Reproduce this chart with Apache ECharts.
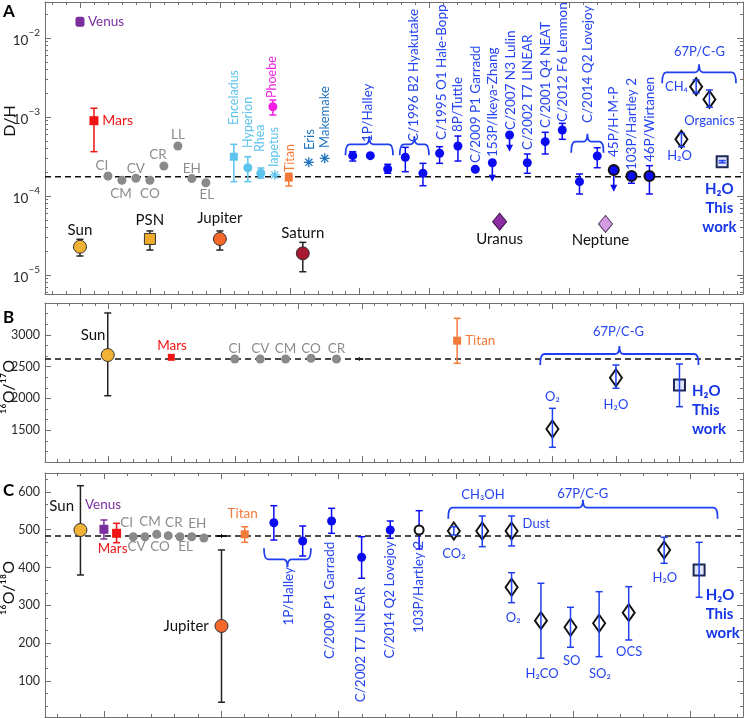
<!DOCTYPE html>
<html>
<head>
<meta charset="utf-8">
<title>D/H and oxygen isotope ratios</title>
<script src="https://cdn.jsdelivr.net/npm/echarts@6.0.0/dist/echarts.min.js"></script>
<style>
html,body{margin:0;padding:0;background:#ffffff;}
#chart{width:747px;height:718px;}
</style>
</head>
<body>
<div id="chart"></div>
<script>
// ================= DATA =================
// Row format: [name, x-slot, value, errLow, errHigh]

// ---- Panel A : D/H (log scale) ----
const aVenus      = [['Venus', 0, 1.61e-2, null, null]];
const aMars       = [['Mars', 1, 8.98e-4, 3.64e-4, 1.29e-3]];
const aChondrites = [['CI', 2, 1.79e-4], ['CM', 3, 1.58e-4], ['CV', 4, 1.68e-4], ['CO', 5, 1.58e-4],
                     ['CR', 6, 2.40e-4], ['LL', 7, 4.30e-4], ['EH', 8, 1.66e-4], ['EL', 9, 1.47e-4]];
const aSun        = [['Sun', 0, 2.28e-5, 1.74e-5, 2.83e-5]];
const aPSN        = [['PSN', 5, 2.86e-5, 2.07e-5, 3.61e-5]];
const aJupiter    = [['Jupiter', 10, 2.86e-5, 2.07e-5, 3.61e-5]];
const aSaturn     = [['Saturn', 15.93, 1.88e-5, 1.10e-5, 2.59e-5]];
const aEnceladus  = [['Enceladus', 11, 3.14e-4, 1.52e-4, 4.51e-4]];
const aSatMoons   = [['Hyperion', 12, 2.28e-4, 1.52e-4, 3.14e-4], ['Rhea', 12.93, 1.94e-4, 1.68e-4, 2.26e-4]];
const aIapetus    = [['Iapetus', 13.93, 1.85e-4]];
const aPhoebe     = [['Phoebe', 13.79, 1.35e-3, 1.06e-3, 1.64e-3]];
const aTitan      = [['Titan', 14.93, 1.71e-4, 1.34e-4, 1.94e-4]];
const aKBO        = [['Eris', 16.36, 2.67e-4], ['Makemake', 17.5, 3.0e-4]];
const aOortComets = [
  ['1P/Halley', 19.5, 3.24e-4, 2.77e-4, 3.64e-4],
  ['1P/Halley', 20.76, 3.24e-4, null, null],
  ['1P/Halley', 22.0, 2.20e-4, 1.94e-4, 2.52e-4],
  ['C/1996 B2 Hyakutake', 23.26, 3.09e-4, 2.03e-4, 4.13e-4],
  ['C/1996 B2 Hyakutake', 24.52, 1.94e-4, 1.35e-4, 2.59e-4],
  ['C/1995 O1 Hale-Bopp', 25.71, 3.48e-4, 2.59e-4, 4.21e-4],
  ['8P/Tuttle', 27.02, 4.30e-4, 2.77e-4, 5.74e-4],
  ['C/2009 P1 Garradd', 28.26, 2.18e-4, null, null],
  ['153P/Ikeya-Zhang', 29.48, 2.64e-4, null, null],
  ['C/2007 N3 Lulin', 30.71, 5.92e-4, null, null],
  ['C/2002 T7 LINEAR', 31.98, 2.64e-4, 1.94e-4, 3.40e-4],
  ['C/2001 Q4 NEAT', 33.26, 4.87e-4, 3.40e-4, 6.40e-4],
  ['C/2012 F6 Lemmon', 34.48, 6.84e-4, 5.22e-4, 8.31e-4],
  ['C/2014 Q2 Lovejoy', 35.71, 1.52e-4, 1.06e-4, 1.90e-4],
  ['C/2014 Q2 Lovejoy', 36.98, 3.21e-4, 2.28e-4, 4.08e-4]
];
const aJFComets   = [['45P/H-M-P', 38.16, 2.13e-4, null, null],
                     ['103P/Hartley 2', 39.43, 1.79e-4, 1.45e-4, 1.94e-4],
                     ['46P/Wirtanen', 40.71, 1.79e-4, 1.06e-4, 2.42e-4]];
// upper limits: [name, slot, value, arrow tip]
const aUpperLimits = [['153P/Ikeya-Zhang', 29.48, 2.64e-4, 1.52e-4],
                      ['C/2007 N3 Lulin', 30.71, 5.92e-4, 3.64e-4],
                      ['45P/H-M-P', 38.16, 2.13e-4, 1.13e-4]];
const a67P        = [['H₂O', 43.0, 5.22e-4, 4.21e-4, 6.22e-4],
                     ['CH₄', 44.05, 2.42e-3, 2.01e-3, 2.94e-3],
                     ['Organics', 45.0, 1.67e-3, 1.33e-3, 2.20e-3]];
const aThisWork   = [['H₂O This work', 45.91, 2.72e-4, 2.63e-4, 2.81e-4]];
const aUranus     = [['Uranus', 30.0, 4.73e-5]];
const aNeptune    = [['Neptune', 37.57, 4.43e-5]];
const aReference  = 1.75e-4;
const aTickLabels = [1e-5, 1e-4, 1e-3, 1e-2];

// ---- Panel B : 16O/17O ----
const bSun        = [['Sun', 0, 2682, 2042, 3343]];
const bMars       = [['Mars', 5, 2646]];
const bChondrites = [['CI', 10, 2620], ['CV', 12, 2620], ['CM', 14, 2620], ['CO', 16, 2631], ['CR', 18, 2620]];
const bOther      = [['', 19.8, 2620]];
const bTitan      = [['Titan', 27.5, 2907, 2552, 3259]];
const b67P        = [['O₂', 35, 1519, 1231, 1844], ['H₂O', 40, 2325, 2159, 2525]];
const bThisWork   = [['H₂O This work', 45, 2211, 1870, 2541]];
const bReference  = 2620;
const bTickLabels = [1500, 2000, 2500, 3000];

// ---- Panel C : 16O/18O ----
const cSun        = [['Sun', -1, 499.3, 380.4, 616.4]];
const cVenus      = [['Venus', 0, 501.2, 475.6, 525.8]];
const cMars       = [['Mars', 0.54, 490.6, 465.8, 517]];
const cChondrites = [['CI', 1.25, 481.6], ['CV', 1.75, 481.6], ['CM', 2.25, 488], ['CO', 2.74, 484.3],
                     ['CR', 3.24, 481.6], ['EL', 3.74, 481.6], ['EH', 4.26, 478.2]];
const cJupiter    = [['Jupiter', 5.01, 245.6, 44, 446.5]];
const cOther      = [['', 5.01, 483.5]];
const cTitan      = [['Titan', 6, 488, 466.8, 508]];
const cOortComets = [['1P/Halley', 7.24, 518.6, 472.9, 563.6],
                     ['1P/Halley', 8.47, 470.3, 430.6, 510],
                     ['C/2009 P1 Garradd', 9.7, 523.1, 490.6, 556.7],
                     ['C/2002 T7 LINEAR', 10.98, 427.2, 371.7, 481.6],
                     ['C/2014 Q2 Lovejoy', 12.2, 499.3, 477.4, 523.1]];
const cHartley    = [['103P/Hartley 2', 13.43, 499.3, 449.1, 550.4]];
const c67P        = [['CO₂', 14.91, 496.7, 486.1, 508],
                     ['CH₃OH', 16.12, 496.7, 455.2, 536.4],
                     ['Dust', 17.37, 496.7, 457.1, 536.4],
                     ['O₂', 17.37, 347.9, 307.2, 386.5],
                     ['H₂CO', 18.62, 259.6, 160.3, 358.5],
                     ['SO', 19.88, 242.2, 189.3, 295],
                     ['SO₂', 21.1, 252.8, 164.5, 336.3],
                     ['OCS', 22.36, 280.8, 208.6, 349.5],
                     ['H₂O', 23.87, 446.5, 411.3, 480]];
const cThisWork   = [['H₂O This work', 25.36, 393.6, 321.5, 466.8]];
const cReference  = 483.5;
const cTickLabels = [100, 200, 300, 400, 500, 600];

// ================= ANNOTATIONS (text anchors in data space) =================
const aLabels = [
  ['Venus', 0.57, 1.61e-2, 'venusL'], ['Mars', 1.59, 8.98e-4, 'marsL'],
  ['CI', 1.57, 2.40e-4, 'gray'], ['CM', 2.93, 1.06e-4, 'gray'], ['CV', 4, 2.20e-4, 'gray'], ['CO', 5, 1.06e-4, 'gray'],
  ['CR', 5.57, 3.30e-4, 'gray'], ['LL', 7, 5.92e-4, 'gray'], ['EH', 8, 2.20e-4, 'gray'], ['EL', 9.07, 1.03e-4, 'gray'],
  ['Sun', 0, 3.72e-5, 'black'], ['PSN', 5, 4.97e-5, 'black'], ['Jupiter', 10, 5.27e-5, 'black'],
  ['Saturn', 15.93, 3.40e-5, 'black'], ['Uranus', 30, 2.86e-5, 'black'], ['Neptune', 37.21, 2.77e-5, 'black'],
  ['Enceladus', 11, 7.92e-4, 'lightUp'], ['Hyperion', 12, 4.06e-4, 'lightUp'], ['Rhea', 12.86, 3.61e-4, 'lightUp'],
  ['Iapetus', 13.86, 2.33e-4, 'lightUp'], ['Phoebe', 13.71, 1.74e-3, 'magentaUp'], ['Titan', 15.0, 2.01e-4, 'orangeUp'],
  ['Eris', 16.43, 3.82e-4, 'tealUp'], ['Makemake', 17.5, 4.06e-4, 'tealUp'],
  ['1P/Halley', 20.59, 4.83e-4, 'blueUp'], ['C/1996 B2 Hyakutake', 23.88, 4.83e-4, 'blueUp'],
  ['C/1995 O1 Hale-Bopp', 25.84, 5.12e-4, 'blueUp'], ['8P/Tuttle', 27.0, 6.46e-4, 'blueUp'],
  ['C/2009 P1 Garradd', 28.29, 2.62e-4, 'blueUp'], ['153P/Ikeya-Zhang', 29.5, 3.12e-4, 'blueUp'],
  ['C/2007 N3 Lulin', 30.76, 6.84e-4, 'blueUp'], ['C/2002 T7 LINEAR', 32.0, 3.82e-4, 'blueUp'],
  ['C/2001 Q4 NEAT', 33.29, 7.26e-4, 'blueUp'], ['C/2012 F6 Lemmon', 34.5, 8.65e-4, 'blueUp'],
  ['C/2014 Q2 Lovejoy', 36.31, 8.39e-4, 'blueUp'], ['45P/H-M-P', 38.14, 3.12e-4, 'blueUp'],
  ['103P/Hartley 2', 39.43, 2.13e-4, 'blueUp'], ['46P/Wirtanen', 40.71, 2.69e-4, 'blueUp'],
  ['67P/C-G', 44.29, 6.65e-3, 'blue'], ['CH₄', 42.64, 2.40e-3, 'blue'], ['Organics', 45.0, 8.91e-4, 'blue'],
  ['H₂O', 42.86, 3.21e-4, 'blue'], ['H₂O\nThis\nwork', 45.71, 7.05e-5, 'bold']
];
const aBrackets = [[18.98, 22.38, 4.51e-4, 1], [22.86, 24.95, 4.51e-4, 1], [35.12, 37.43, 4.87e-4, 1], [41.62, 46.9, 3.68e-3, 1]];

const bLabels = [
  ['Sun', -1.16, 2997, 'black'], ['Mars', 5.06, 2829, 'marsC'],
  ['CI', 10, 2777, 'gray'], ['CV', 12, 2777, 'gray'], ['CM', 14, 2777, 'gray'], ['CO', 16, 2777, 'gray'], ['CR', 18, 2777, 'gray'],
  ['Titan', 28.13, 2907, 'orangeL'], ['67P/C-G', 40.2, 3049, 'blue'], ['O₂', 35, 2027, 'blue'], ['H₂O', 40, 1896, 'blue'],
  ['H₂O\nThis\nwork', 45.98, 1818, 'boldL']
];
const bBrackets = [[34.04, 46.5, 2698, 1]];

const cLabels = [
  ['Sun', -1.8, 562.8, 'black'], ['Venus', -0.81, 565.4, 'venusL'], ['Mars', 0.37, 449.1, 'marsC'],
  ['CI', 0.97, 519.7, 'gray'], ['CM', 1.96, 521.3, 'gray'], ['CR', 2.98, 519.7, 'gray'], ['EH', 3.98, 517, 'gray'],
  ['CV', 1.39, 455.2, 'gray'], ['CO', 2.39, 455.2, 'gray'], ['EL', 3.48, 455.2, 'gray'],
  ['Jupiter', 4.47, 245.6, 'blackR'], ['Titan', 5.91, 543.5, 'orange'],
  ['1P/Halley', 7.85, 401.6, 'blueDown'], ['C/2009 P1 Garradd', 9.63, 468.4, 'blueDown'],
  ['C/2002 T7 LINEAR', 10.94, 349.5, 'blueDown'], ['C/2014 Q2 Lovejoy', 12.16, 470.3, 'blueDown'],
  ['103P/Hartley 2', 13.39, 470.3, 'blueDown'],
  ['CO₂', 14.91, 435.1, 'blue'], ['CH₃OH', 16.15, 591.9, 'blue'], ['67P/C-G', 20.4, 596.3, 'blue'],
  ['Dust', 17.84, 515.2, 'blueL'], ['O₂', 17.44, 267.6, 'blue'], ['H₂CO', 18.67, 118.8, 'blue'],
  ['SO', 19.93, 153.1, 'blue'], ['SO₂', 21.13, 118.8, 'blue'], ['OCS', 22.38, 176.1, 'blue'],
  ['H₂O', 23.9, 371.7, 'blue'], ['H₂O\nThis\nwork', 25.64, 277.3, 'boldL']
];
const cBrackets = [[14.67, 26.15, 558.3, 1], [6.82, 8.82, 421.9, -1]];

// ================= STYLES =================
const FONT = 'Lato, "Open Sans", "DejaVu Sans", sans-serif';
const AXIS = '#707070';
const BLUE = '#0b0bf2', BLUE_T = '#2444f2', BLUE_B = '#1f3ff0', BOLD_B = '#1536e8';
const LIGHT = '#5cc3ec', MAG = '#f21fe2', ORANGE = '#f47a3a', TEAL = '#1f73bd';
const STY = {
  sun:    {symbol: 'circle', size: 13, color: '#f1b133', border: '#333', bw: 1, err: '#222'},
  psn:    {symbol: 'rect', size: 11, color: '#eeac2a', border: '#333', bw: 1, err: '#222'},
  jup:    {symbol: 'circle', size: 13, color: '#f5682a', border: '#333', bw: 1, err: '#222'},
  sat:    {symbol: 'circle', size: 13, color: '#a5182f', border: '#333', bw: 1, err: '#222'},
  venus:  {symbol: 'roundRect', size: [9, 10], color: '#7b2f9f'},
  venusC: {symbol: 'rect', size: 9, color: '#7b2f9f'},
  mars:   {symbol: 'rect', size: 9, color: '#f01414'},
  marsB:  {symbol: 'rect', size: 7, color: '#f01414'},
  chon:   {symbol: 'circle', size: 9, color: '#8a8a8a'},
  encel:  {symbol: 'rect', size: 8, color: LIGHT},
  moon:   {symbol: 'circle', size: 9, color: LIGHT},
  iap:    {symbol: 'asterisk', size: 5, color: LIGHT},
  phoebe: {symbol: 'circle', size: 9, color: MAG},
  titan:  {symbol: 'rect', size: 8, color: ORANGE},
  kbo:    {symbol: 'asterisk', size: 5, color: TEAL},
  comet:  {symbol: 'circle', size: 9, color: BLUE},
  jfc:    {symbol: 'circle', size: 10, color: BLUE, border: '#111', bw: 2, err: BLUE},
  hart:   {symbol: 'circle', size: 9, color: '#fff', border: '#111', bw: 2, err: BLUE},
  d67:    {symbol: 'diamond', size: [12, 17], color: 'rgba(255,255,255,0)', border: '#111', bw: 2, err: BLUE_B, errTop: true},
  tw:     {symbol: 'rect', size: 11, color: 'rgba(205,214,242,0.6)', border: '#1c2957', bw: 2, err: BLUE_B, errTop: true},
  ura:    {symbol: 'diamond', size: [14, 17], color: '#8e2da3', border: '#3c1447', bw: 1},
  nep:    {symbol: 'diamond', size: [14, 17], color: '#d39be0', border: '#5a3a63', bw: 1},
  tickB:  {symbol: 'dash', size: 4, color: '#222'},
  dashC:  {symbol: 'dash', size: 5, color: '#111'}
};
const LBL = {
  black:    {c: '#111', s: 15, a: 'center'},
  blackR:   {c: '#111', s: 15, a: 'right'},
  gray:     {c: '#8c8c8c', s: 13.5, a: 'center'},
  venusL:   {c: '#7b2f9f', s: 13.5, a: 'left'},
  marsL:    {c: '#f01414', s: 14, a: 'left'},
  marsC:    {c: '#f01414', s: 13.5, a: 'center'},
  orange:   {c: ORANGE, s: 13.5, a: 'center'},
  orangeL:  {c: ORANGE, s: 13.5, a: 'left'},
  blue:     {c: BLUE_T, s: 13, a: 'center'},
  blueL:    {c: BLUE_T, s: 13, a: 'left'},
  bold:     {c: BOLD_B, s: 15, a: 'center', w: 'bold', lh: 19},
  boldL:    {c: BOLD_B, s: 15, a: 'left', w: 'bold', lh: 19},
  lightUp:  {c: LIGHT, s: 12.5, a: 'left', r: 1},
  magentaUp:{c: MAG, s: 12.5, a: 'left', r: 1},
  orangeUp: {c: ORANGE, s: 12.5, a: 'left', r: 1},
  tealUp:   {c: TEAL, s: 13, a: 'left', r: 1},
  blueUp:   {c: BLUE_T, s: 13.5, a: 'left', r: 1},
  blueDown: {c: BLUE_T, s: 13.5, a: 'right', r: 1}
};

// ================= BUILD =================
const log = v => Math.log10(v), lin = v => v;
const grids = [], xAxes = [], yAxes = [], series = [];

function ticks(a, b, step) {
  const out = []; const n = Math.floor((b - a) / step + 1e-6);
  for (let i = 0; i <= n; i++) out.push(+(a + i * step).toFixed(6));
  return out;
}
function panel(box, xr, yr, xMaj, xMin, yMaj, yMin, yLab, fmt, rich) {
  const gi = grids.length;
  grids.push(Object.assign({containLabel: false}, box));
  const line = {show: true, onZero: false, lineStyle: {color: AXIS, width: 1}};
  const mk = (pos, vals, len, showLine, isX, labels) => ({
    type: 'value', gridIndex: gi, position: pos,
    min: isX ? xr[0] : yr[0], max: isX ? xr[1] : yr[1],
    axisLine: showLine ? line : {show: false, onZero: false},
    axisTick: {show: true, inside: true, length: len, customValues: vals, lineStyle: {color: AXIS, width: 1}},
    axisLabel: labels ? {show: true, customValues: labels, formatter: fmt, fontFamily: FONT, fontSize: 12.5,
                         color: '#2a2a2a', margin: 5, rich: rich}
                      : {show: false},
    splitLine: {show: false}, minorTick: {show: false}, minorSplitLine: {show: false}, silent: true
  });
  xAxes.push(mk('bottom', xMaj, 6, true, true), mk('bottom', xMin, 3, false, true),
             mk('top', xMaj, 6, true, true), mk('top', xMin, 3, false, true));
  yAxes.push(mk('left', yMaj, 6, true, false, yLab), mk('left', yMin, 3, false, false),
             mk('right', yMaj, 6, true, false), mk('right', yMin, 3, false, false));
  return gi * 4;
}

function errRender(color, cap, lw) {
  return function (params, api) {
    const x = api.value(0);
    const p1 = api.coord([x, api.value(1)]), p2 = api.coord([x, api.value(2)]);
    const st = {stroke: color, lineWidth: lw};
    return {type: 'group', children: [
      {type: 'line', shape: {x1: p1[0], y1: p1[1], x2: p2[0], y2: p2[1]}, style: st},
      {type: 'line', shape: {x1: p1[0] - cap, y1: p1[1], x2: p1[0] + cap, y2: p1[1]}, style: st},
      {type: 'line', shape: {x1: p2[0] - cap, y1: p2[1], x2: p2[0] + cap, y2: p2[1]}, style: st}
    ]};
  };
}
function starRender(color, r) {
  return function (params, api) {
    const p = api.coord([api.value(0), api.value(1)]);
    const ch = [];
    for (let k = 0; k < 4; k++) {
      const a = k * Math.PI / 4;
      ch.push({type: 'line', shape: {x1: p[0] - r * Math.cos(a), y1: p[1] - r * Math.sin(a),
        x2: p[0] + r * Math.cos(a), y2: p[1] + r * Math.sin(a)}, style: {stroke: color, lineWidth: 1.3}});
    }
    ch.push({type: 'circle', shape: {cx: p[0], cy: p[1], r: 1.6}, style: {fill: color}});
    return {type: 'group', children: ch};
  };
}
function dashRender(color, hw) {
  return function (params, api) {
    const p = api.coord([api.value(0), api.value(1)]);
    return {type: 'group', children: [
      {type: 'line', shape: {x1: p[0] - hw, y1: p[1], x2: p[0] + hw, y2: p[1]}, style: {stroke: color, lineWidth: 2}},
      {type: 'line', shape: {x1: p[0], y1: p[1] - 2, x2: p[0], y2: p[1] + 2}, style: {stroke: color, lineWidth: 1}}
    ]};
  };
}
function arrowRender(color) {
  return function (params, api) {
    const x = api.value(0);
    const p1 = api.coord([x, api.value(1)]), p2 = api.coord([x, api.value(2)]);
    return {type: 'group', children: [
      {type: 'line', shape: {x1: p1[0], y1: p1[1], x2: p2[0], y2: p2[1] - 5}, style: {stroke: color, lineWidth: 1.6}},
      {type: 'polygon', shape: {points: [[p2[0] - 3.5, p2[1] - 7], [p2[0] + 3.5, p2[1] - 7], [p2[0], p2[1]]]}, style: {fill: color}}
    ]};
  };
}
function bracketRender(params, api) {
  const y = api.value(2), dir = api.value(3);
  const a = api.coord([api.value(0), y]), b = api.coord([api.value(1), y]);
  const h = 11 * dir, t = 8 * dir, r = 4, yy = a[1], xc = (a[0] + b[0]) / 2;
  const d = 'M' + a[0] + ',' + (yy + h) + ' Q' + a[0] + ',' + yy + ' ' + (a[0] + r) + ',' + yy +
            ' L' + (xc - r) + ',' + yy + ' Q' + xc + ',' + yy + ' ' + xc + ',' + (yy - t) +
            ' Q' + xc + ',' + yy + ' ' + (xc + r) + ',' + yy + ' L' + (b[0] - r) + ',' + yy +
            ' Q' + b[0] + ',' + yy + ' ' + b[0] + ',' + (yy + h);
  return {type: 'path', shape: {pathData: d}, style: {stroke: BLUE_B, lineWidth: 1.8, fill: 'none'}};
}

function addGroup(rows, key, ax, tf) {
  const s = STY[key];
  const base = {xAxisIndex: ax, yAxisIndex: ax, silent: true, animation: false};
  const eb = rows.filter(r => r[3] != null).map(r => [r[1], tf(r[3]), tf(r[4])]);
  if (eb.length) series.push(Object.assign({type: 'custom', z: s.errTop ? 7 : 3, clip: false,
    renderItem: errRender(s.err || s.color, 3.5, 1.5), data: eb}, base));
  const pts = rows.map(r => [r[1], tf(r[2])]);
  if (s.symbol === 'asterisk') {
    series.push(Object.assign({type: 'custom', z: 5, clip: false, renderItem: starRender(s.color, s.size), data: pts}, base));
  } else if (s.symbol === 'dash') {
    series.push(Object.assign({type: 'custom', z: 5, clip: false, renderItem: dashRender(s.color, s.size), data: pts}, base));
  } else {
    series.push(Object.assign({type: 'scatter', z: 5, symbol: s.symbol, symbolSize: s.size,
      itemStyle: {color: s.color, borderColor: s.border || s.color, borderWidth: s.bw || 0, opacity: 1},
      data: pts}, base));
  }
}
function addReference(v, ax, xr, tf) {
  series.push({type: 'line', xAxisIndex: ax, yAxisIndex: ax, z: 2, silent: true, animation: false, symbol: 'none',
    lineStyle: {color: '#111', width: 1.4, type: [6, 4]}, data: [[xr[0], tf(v)], [xr[1], tf(v)]]});
}
function addLabels(rows, ax, tf) {
  series.push({type: 'custom', xAxisIndex: ax, yAxisIndex: ax, z: 10, silent: true, animation: false, clip: false,
    data: rows.map(r => [r[1], tf(r[2])]),
    renderItem: function (params, api) {
      const r = rows[params.dataIndex], st = LBL[r[3]];
      const p = api.coord([api.value(0), api.value(1)]);
      return {type: 'text', x: p[0], y: p[1], rotation: st.r ? Math.PI / 2 : 0,
        style: {text: r[0], fill: st.c, fontSize: st.s, fontFamily: FONT, fontWeight: st.w || 'normal',
                align: st.a, verticalAlign: 'middle', lineHeight: st.lh || st.s * 1.2}};
    }});
}
function addBrackets(rows, ax, tf) {
  series.push({type: 'custom', xAxisIndex: ax, yAxisIndex: ax, z: 8, silent: true, animation: false, clip: false,
    data: rows.map(r => [r[0], r[1], tf(r[2]), r[3]]), renderItem: bracketRender});
}

const powLabel = v => '{b|10}{s|\u2212' + Math.abs(Math.round(v)) + '}';
const powRich = {
  b: {fontSize: 13.5, fontFamily: FONT, color: '#2a2a2a', lineHeight: 20, verticalAlign: 'bottom'},
  s: {fontSize: 10, fontFamily: FONT, color: '#2a2a2a', lineHeight: 20, verticalAlign: 'top'}
};

// ---- Panel A ----
const aX = [-2.5, 47.4], aY = [-5.2405, -1.5443];
const aMinorY = [];
for (let n = -6; n <= -2; n++) for (let k = 2; k <= 9; k++) {
  const v = n + Math.log10(k); if (v > aY[0] && v < aY[1]) aMinorY.push(v);
}
const axA = panel({left: 45, top: 2, width: 698, height: 292}, aX, aY,
  ticks(0, 45, 5), ticks(-2, 47, 1), aTickLabels.map(log), aMinorY, aTickLabels.map(log), powLabel, powRich);
addReference(aReference, axA, aX, log);
[[aVenus, 'venus'], [aMars, 'mars'], [aChondrites, 'chon'], [aSun, 'sun'], [aPSN, 'psn'], [aJupiter, 'jup'],
 [aSaturn, 'sat'], [aEnceladus, 'encel'], [aSatMoons, 'moon'], [aIapetus, 'iap'], [aPhoebe, 'phoebe'],
 [aTitan, 'titan'], [aKBO, 'kbo'], [aOortComets, 'comet'], [aJFComets, 'jfc'], [a67P, 'd67'],
 [aThisWork, 'tw'], [aUranus, 'ura'], [aNeptune, 'nep']].forEach(g => addGroup(g[0], g[1], axA, log));
series.push({type: 'custom', xAxisIndex: axA, yAxisIndex: axA, z: 4, silent: true, animation: false, clip: false,
  renderItem: arrowRender(BLUE), data: aUpperLimits.map(r => [r[1], log(r[2]), log(r[3])])});
addBrackets(aBrackets, axA, log);
addLabels(aLabels, axA, log);

// ---- Panel B ----
const bX = [-4.94, 50.0], bY = [1000, 3500];
const axB = panel({left: 45, top: 303, width: 698, height: 159}, bX, bY,
  ticks(0, 50, 5), ticks(-4, 50, 1), ticks(1000, 3500, 500), ticks(1000, 3500, 500 / 3), bTickLabels, v => String(v));
addReference(bReference, axB, bX, lin);
[[bSun, 'sun'], [bMars, 'marsB'], [bChondrites, 'chon'], [bOther, 'tickB'], [bTitan, 'titan'],
 [b67P, 'd67'], [bThisWork, 'tw']].forEach(g => addGroup(g[0], g[1], axB, lin));
addBrackets(bBrackets, axB, lin);
addLabels(bLabels, axB, lin);

// ---- Panel C ----
const cX = [-2.51, 27.23], cY = [5, 650];
const axC = panel({left: 45, top: 473, width: 698, height: 244}, cX, cY,
  ticks(0, 25, 5), ticks(-2, 27, 1), ticks(100, 600, 100), ticks(0, 650, 100 / 3).filter(v => v >= 5), cTickLabels, v => String(v));
addReference(cReference, axC, cX, lin);
[[cSun, 'sun'], [cVenus, 'venusC'], [cMars, 'mars'], [cChondrites, 'chon'], [cJupiter, 'jup'], [cOther, 'dashC'],
 [cTitan, 'titan'], [cOortComets, 'comet'], [cHartley, 'hart'], [c67P, 'd67'], [cThisWork, 'tw']]
  .forEach(g => addGroup(g[0], g[1], axC, lin));
addBrackets(cBrackets, axC, lin);
addLabels(cLabels, axC, lin);

const chart = echarts.init(document.getElementById('chart'), null, {renderer: 'canvas'});
chart.setOption({
  backgroundColor: '#ffffff',
  animation: false,
  textStyle: {fontFamily: FONT},
  grid: grids, xAxis: xAxes, yAxis: yAxes, series: series,
  graphic: [
    {type: 'text', x: 3, y: 3, style: {text: 'A', fontSize: 17, fontWeight: 'bold', fontFamily: FONT, fill: '#000'}},
    {type: 'text', x: 3, y: 309, style: {text: 'B', fontSize: 17, fontWeight: 'bold', fontFamily: FONT, fill: '#000'}},
    {type: 'text', x: 3, y: 482, style: {text: 'C', fontSize: 17, fontWeight: 'bold', fontFamily: FONT, fill: '#000'}},
    {type: 'text', x: 10, y: 121, rotation: Math.PI / 2,
     style: {text: 'D/H', fontSize: 16, fontFamily: FONT, fill: '#111', align: 'center', verticalAlign: 'middle'}},
    {type: 'text', x: 9, y: 387, rotation: Math.PI / 2,
     style: {text: '¹⁶O/¹⁷O', fontSize: 16, fontFamily: FONT, fill: '#111', align: 'center', verticalAlign: 'middle'}},
    {type: 'text', x: 9, y: 588, rotation: Math.PI / 2,
     style: {text: '¹⁶O/¹⁸O', fontSize: 16, fontFamily: FONT, fill: '#111', align: 'center', verticalAlign: 'middle'}}
  ]
});
</script>
</body>
</html>
